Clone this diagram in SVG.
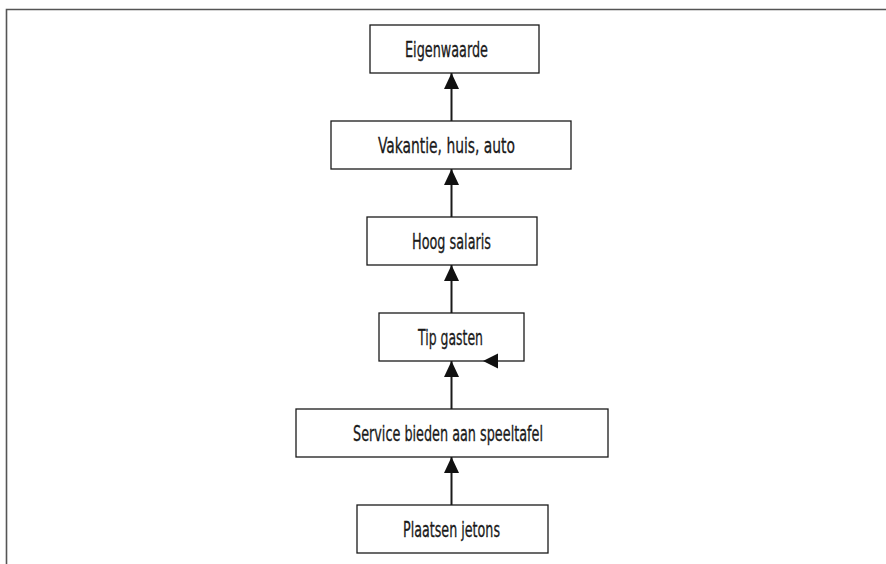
<svg xmlns="http://www.w3.org/2000/svg" width="886" height="564" viewBox="0 0 886 564">
  <style>
    .box { fill: #ffffff; stroke: #1a1a1a; stroke-width: 1.3; }
    .label { font-family: "DejaVu Sans Condensed", "Liberation Sans Narrow", "Liberation Sans", sans-serif; font-size: 21px; fill: #1a1a1a; stroke: #1a1a1a; stroke-width: 0.3; text-anchor: middle; }
    .link { stroke: #1a1a1a; stroke-width: 2; fill: none; marker-end: url(#head); }
    .frame { stroke: #555555; stroke-width: 1.6; fill: none; }
  </style>
  <defs>
    <marker id="head" markerUnits="userSpaceOnUse" markerWidth="16" markerHeight="15" refX="16" refY="7.5" orient="auto">
      <path d="M0,0 L16,7.5 L0,15 Z" fill="#111111"/>
    </marker>
  </defs>

  <rect width="886" height="564" fill="#ffffff"/>
  <!-- page frame (top and left edges) -->
  <path class="frame" d="M6.5,564 V9.5 H886"/>

  <g id="eigenwaarde">
    <rect class="box" x="370" y="25" width="169" height="48"/>
    <text class="label" x="446.5" y="57" textLength="83" lengthAdjust="spacingAndGlyphs">Eigenwaarde</text>
  </g>
  <g id="vakantie">
    <rect class="box" x="331" y="121" width="240" height="48"/>
    <text class="label" x="446.5" y="152.5" textLength="137" lengthAdjust="spacingAndGlyphs">Vakantie, huis, auto</text>
  </g>
  <g id="hoog-salaris">
    <rect class="box" x="367" y="217" width="170" height="48"/>
    <text class="label" x="451.5" y="248.5" textLength="79" lengthAdjust="spacingAndGlyphs">Hoog salaris</text>
  </g>
  <g id="tip-gasten">
    <rect class="box" x="379" y="313" width="145" height="48"/>
    <text class="label" x="450.5" y="344.5" textLength="65" lengthAdjust="spacingAndGlyphs">Tip gasten</text>
  </g>
  <g id="service">
    <rect class="box" x="296" y="409" width="312" height="48"/>
    <text class="label" x="448" y="440.5" textLength="190" lengthAdjust="spacingAndGlyphs">Service bieden aan speeltafel</text>
  </g>
  <g id="plaatsen-jetons">
    <rect class="box" x="357" y="505" width="191" height="48"/>
    <text class="label" x="451.5" y="536.5" textLength="97" lengthAdjust="spacingAndGlyphs">Plaatsen jetons</text>
  </g>

  <g id="connectors">
    <line class="link" x1="451.5" y1="121" x2="451.5" y2="73"/>
    <line class="link" x1="451.5" y1="217" x2="451.5" y2="169"/>
    <line class="link" x1="451.5" y1="313" x2="451.5" y2="265"/>
    <line class="link" x1="451.5" y1="409" x2="451.5" y2="361"/>
    <line class="link" x1="451.5" y1="505" x2="451.5" y2="457"/>
    <!-- loop arrowhead on the lower edge of "Tip gasten" -->
    <path d="M483,361 L498,353.5 L498,368.5 Z" fill="#111111"/>
  </g>
</svg>
